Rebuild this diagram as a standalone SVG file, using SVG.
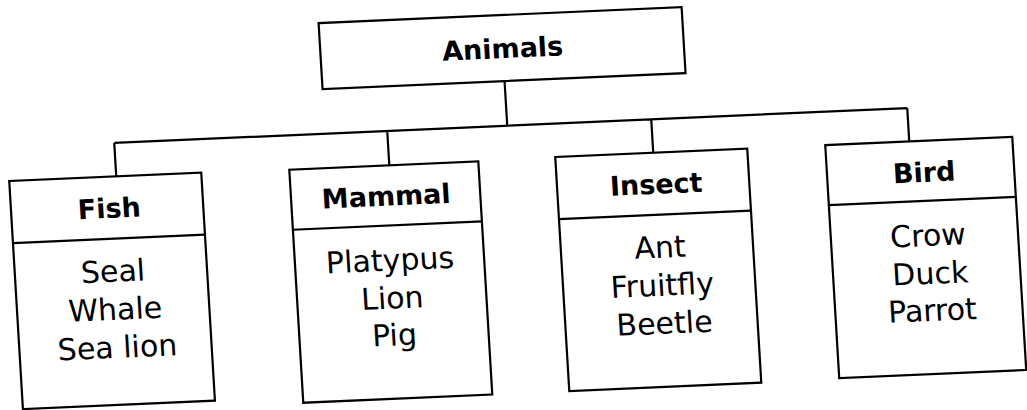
<svg xmlns="http://www.w3.org/2000/svg" width="1027" height="410" viewBox="0 0 1027 410">
<style>
.box{fill:none;stroke:#000;stroke-width:2.2}
.con{fill:none;stroke:#000;stroke-width:2.2}
.hd{font-family:"DejaVu Sans",sans-serif;font-weight:bold;font-size:27px;text-anchor:middle;fill:#000}
.bd{font-family:"DejaVu Sans",sans-serif;font-size:30px;text-anchor:middle;fill:#000}
</style>
<rect width="1027" height="410" fill="#fff"/>
<g transform="matrix(1,-0.044,0.06,1,-12.3,22.6)">
<g id="connectors">
<path class="con" d="M512 81 V125.6 M119 125.6 H912 M119 125.6 V159 M392 125.6 V160 M656 125.6 V159 M912 125.6 V159"/>
</g>
<g id="animals">
<rect class="box" x="330" y="15" width="363" height="66"/>
<text class="hd" x="512" y="58">Animals</text>
</g>
<g id="fish">
<rect class="box" x="12" y="159" width="192" height="228"/>
<line class="box" x1="12" y1="221" x2="204" y2="221"/>
<text class="hd" x="110" y="200">Fish</text>
<text class="bd" x="110" y="264">Seal</text>
<text class="bd" x="110" y="302">Whale</text>
<text class="bd" x="110" y="340">Sea lion</text>
</g>
<g id="mammal">
<rect class="box" x="292" y="160" width="189" height="233"/>
<line class="box" x1="292" y1="220" x2="481" y2="220"/>
<text class="hd" x="387" y="200">Mammal</text>
<text class="bd" x="387" y="265">Platypus</text>
<text class="bd" x="387" y="303">Lion</text>
<text class="bd" x="387" y="340">Pig</text>
</g>
<g id="insect">
<rect class="box" x="558" y="159" width="192" height="234"/>
<line class="box" x1="558" y1="221" x2="750" y2="221"/>
<text class="hd" x="657" y="200">Insect</text>
<text class="bd" x="657" y="264">Ant</text>
<text class="bd" x="657" y="302">Fruitfly</text>
<text class="bd" x="657" y="340">Beetle</text>
</g>
<g id="bird">
<rect class="box" x="828" y="159" width="187" height="233"/>
<line class="box" x1="828" y1="219" x2="1015" y2="219"/>
<text class="hd" x="925" y="200">Bird</text>
<text class="bd" x="925" y="264">Crow</text>
<text class="bd" x="925" y="302">Duck</text>
<text class="bd" x="925" y="339">Parrot</text>
</g>
</g>
</svg>
